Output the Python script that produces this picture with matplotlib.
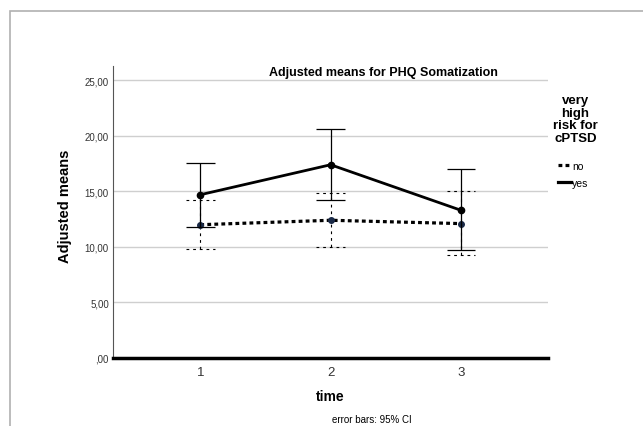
import matplotlib.pyplot as plt
import numpy as np

time = [1, 2, 3]
yes_mean = [14.7, 17.4, 13.3]
yes_low = [11.8, 14.2, 9.7]
yes_high = [17.6, 20.6, 17.05]
no_mean = [12.0, 12.4, 12.1]
no_low = [9.8, 10.0, 9.3]
no_high = [14.2, 14.9, 15.0]
yticks = [0, 5, 10, 15, 20, 25]
ytick_labels = [',00', '5,00', '10,00', '15,00', '20,00', '25,00']

plt.rcParams['font.family'] = ['Liberation Sans', 'DejaVu Sans']
narrow = ['Liberation Sans Narrow', 'Liberation Sans', 'DejaVu Sans']

fig = plt.figure(figsize=(6.43, 4.27), dpi=100)
ax = fig.add_axes([0.1757, 0.1593, 0.677, 0.684])

# outer frame
fig.patches.append(plt.Rectangle((10 / 643, -0.1), 1.2, 1.1 - 12 / 427, transform=fig.transFigure,
                                 fill=False, edgecolor='#b0b0b0', linewidth=1.2))

for y in yticks[1:]:
    ax.axhline(y, color='#cfcfcf', linewidth=1.0, zorder=0)

x = np.array(time)
cap = 0.11

# "no" group: dashed error bars
ax.vlines(x, no_low, no_high, color='black', linewidth=0.8, linestyles=(0, (2.5, 3.5)), zorder=2)
ax.hlines(no_low, x - cap, x + cap, color='black', linewidth=0.8, linestyles=(0, (2.5, 3.5)), zorder=2)
ax.hlines(no_high, x - cap, x + cap, color='black', linewidth=0.8, linestyles=(0, (2.5, 3.5)), zorder=2)
ax.plot(x, no_mean, color='black', linewidth=2.3, linestyle=(0, (1.2, 1.0)), zorder=3)
ax.plot(x, no_mean, 'o', color='#1a2a48', markersize=4, zorder=4)

# "yes" group: solid error bars
ax.vlines(x, yes_low, yes_high, color='black', linewidth=0.9, zorder=4)
ax.hlines(yes_low, x - cap, x + cap, color='black', linewidth=0.9, zorder=4)
ax.hlines(yes_high, x - cap, x + cap, color='black', linewidth=0.9, zorder=4)
ax.plot(x, yes_mean, color='black', linewidth=2.0, zorder=5)
ax.plot(x, yes_mean, 'o', color='black', markersize=4.5, zorder=6)

ax.set_xlim(0.33, 3.67)
ax.set_ylim(0, 26.3)
ax.set_xticks(time)
ax.set_xticklabels([str(t) for t in time], fontsize=9.5, color='#333333')
ax.set_yticks(yticks)
ax.set_yticklabels(ytick_labels, fontsize=7, family=narrow, color='#333333')
ax.tick_params(axis='both', length=0, pad=6)
ax.tick_params(axis='y', pad=3)

for s in ['top', 'right']:
    ax.spines[s].set_visible(False)
ax.spines['left'].set_color('#555555')
ax.spines['left'].set_linewidth(0.8)
ax.spines['bottom'].set_color('black')
ax.spines['bottom'].set_linewidth(2.5)

fig.text(0.596, 0.829, 'Adjusted means for PHQ Somatization', fontsize=9, fontweight='bold',
         ha='center', va='center')
ax.set_ylabel('Adjusted means', fontsize=10.5, fontweight='bold')
ax.yaxis.set_label_coords(-0.094, 0.524)
ax.set_xlabel('time', fontsize=10, fontweight='bold', labelpad=8)

fig.text(0.578, 0.004, 'error bars: 95% CI', fontsize=7, family=narrow, ha='center', va='bottom')

fig.text(0.895, 0.778, 'very\nhigh\nrisk for\ncPTSD', fontsize=9.5, fontweight='bold',
         ha='center', va='top', linespacing=1.08)

h_no, = ax.plot([], [], color='black', linewidth=2.3, linestyle=(0, (1.2, 1.0)))
h_yes, = ax.plot([], [], color='black', linewidth=2.3)
leg = fig.legend([h_no, h_yes], ['no', 'yes'], loc='upper left', bbox_to_anchor=(0.853, 0.643),
                 frameon=False, handlelength=1.3, handletextpad=0.1, labelspacing=0.7,
                 prop={'family': narrow, 'size': 7.5})

fig.savefig('out.png', dpi=100)
